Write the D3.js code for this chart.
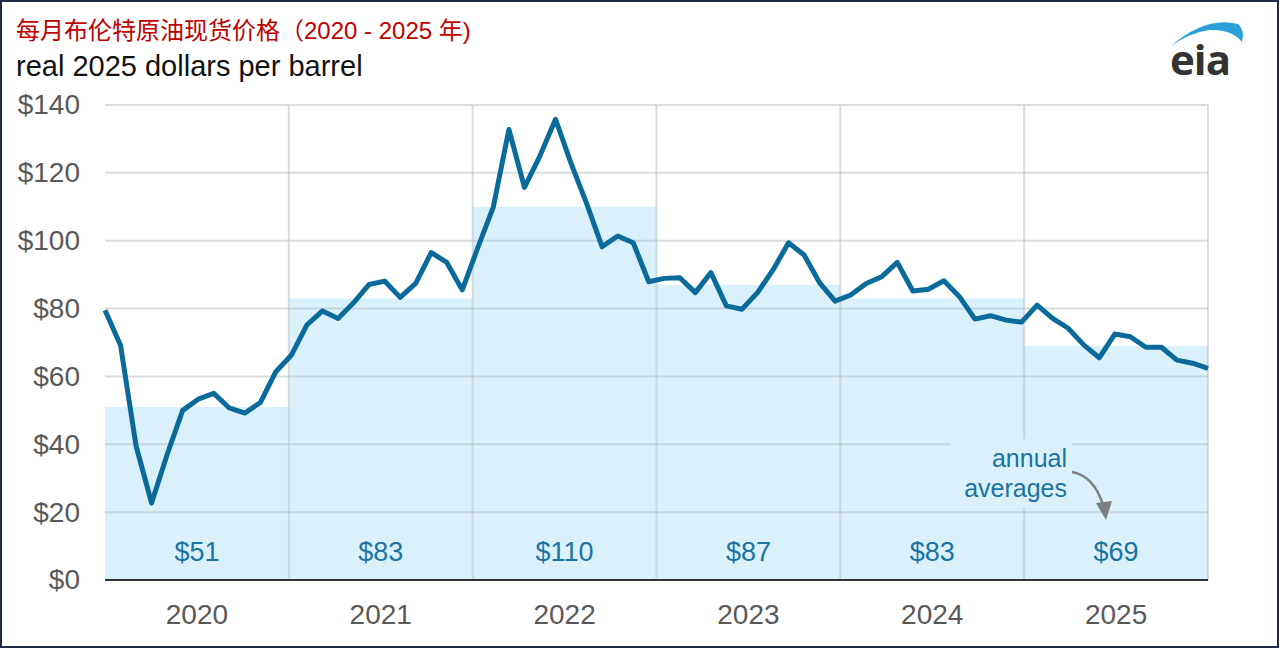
<!DOCTYPE html>
<html><head><meta charset="utf-8">
<script src="https://cdn.jsdelivr.net/npm/d3@7"></script>
<style>
html,body{margin:0;padding:0;background:#fff;}
svg{display:block;font-family:"Liberation Sans",Arial,sans-serif;}
</style></head>
<body><svg id="c" width="1280" height="650"></svg>
<script>
const years = ["2020","2021","2022","2023","2024","2025"];
const annualAvg = [51, 83, 110, 87, 83, 69];
const avgLabels = ["$51","$83","$110","$87","$83","$69"];
const monthly = [
  79.5, 69.2, 39.5, 22.7, 37, 50, 53.3, 55, 50.7, 49.2, 52.3, 61.4,
  66.3, 75.2, 79.3, 77.1, 81.7, 87.1, 88.1, 83.3, 87.4, 96.5, 93.6, 85.5,
  98, 110, 132.8, 115.7, 125, 135.8, 122.8, 111, 98.2, 101.4, 99.4, 87.9,
  88.9, 89.1, 84.7, 90.6, 80.8, 79.8, 84.7, 91.4, 99.4, 95.8, 87.6, 82.2,
  84, 87.4, 89.4, 93.6, 85.2, 85.7, 88.2, 83.5, 76.9, 77.9, 76.6, 76,
  81, 77.1, 74.2, 69.3, 65.5, 72.5, 71.7, 68.6, 68.6, 64.8, 63.9, 62.4
];
const yTicks = [0, 20, 40, 60, 80, 100, 120, 140];
const title = "每月布伦特原油现货价格（2020 - 2025 年)";
const subtitle = "real 2025 dollars per barrel";
const noteLines = ["annual", "averages"];

const svg = d3.select("#c");
const L = 105, R = 1208, T = 105, B = 580;
const barFill = "#daf1fc";

const y = d3.scaleLinear().domain([0, 140]).range([B, T]);
const xb = d3.scaleBand().domain(years).range([L, R]);
const xm = d3.scaleLinear().domain([0, monthly.length - 1]).range([L, R]);

// border
svg.append("rect").attr("x", 1).attr("y", 1).attr("width", 1277).attr("height", 646)
  .attr("fill", "none").attr("stroke", "#1f2b45").attr("stroke-width", 2);

// bars
svg.append("g").selectAll("rect").data(years).join("rect")
  .attr("x", d => xb(d)).attr("width", xb.bandwidth())
  .attr("y", (d, i) => y(annualAvg[i])).attr("height", (d, i) => B - y(annualAvg[i]))
  .attr("fill", barFill);

// gridlines
const grid = svg.append("g").attr("stroke", "#b0bcc2").attr("stroke-opacity", 0.5).attr("stroke-width", 2);
grid.selectAll("line.h").data(yTicks.filter(d => d > 0)).join("line")
  .attr("x1", L).attr("x2", R).attr("y1", d => y(d)).attr("y2", d => y(d));
grid.selectAll("line.v").data(years.slice(1).map(d => xb(d)).concat([R])).join("line")
  .attr("x1", d => d).attr("x2", d => d).attr("y1", T).attr("y2", B);

// annotation background
svg.append("rect").attr("x", 950).attr("y", 439).attr("width", 122).attr("height", 69).attr("fill", barFill);

// bottom axis line
svg.append("line").attr("x1", L).attr("x2", R).attr("y1", B).attr("y2", B)
  .attr("stroke", "#333").attr("stroke-width", 2);

// y labels
const yAxis = d3.axisLeft(y).tickValues(yTicks).tickSize(0).tickPadding(25).tickFormat(d => "$" + d);
const ya = svg.append("g").attr("transform", `translate(${L},0)`).call(yAxis);
ya.select(".domain").remove();
ya.selectAll("text").attr("font-size", 28).attr("fill", "#595959").attr("font-family", "Liberation Sans, Arial, sans-serif");

// x labels
const xAxis = d3.axisBottom(xb).tickSize(0).tickPadding(24);
const xa = svg.append("g").attr("transform", `translate(0,${B})`).call(xAxis);
xa.select(".domain").remove();
xa.selectAll("text").attr("font-size", 28).attr("fill", "#595959").attr("font-family", "Liberation Sans, Arial, sans-serif");

// avg labels
svg.append("g").selectAll("text").data(years).join("text")
  .attr("x", d => xb(d) + xb.bandwidth() / 2).attr("y", 561)
  .attr("text-anchor", "middle").attr("font-size", 27).attr("fill", "#1a73a3")
  .text((d, i) => avgLabels[i]);

// line
svg.append("path").datum(monthly)
  .attr("d", d3.line().x((d, i) => xm(i)).y(d => y(d)))
  .attr("fill", "none").attr("stroke", "#0a6b9a").attr("stroke-width", 5)
  .attr("stroke-linejoin", "round").attr("stroke-linecap", "butt");

// annotation
svg.append("g").selectAll("text").data(noteLines).join("text")
  .attr("x", 1067).attr("y", (d, i) => 467 + i * 30)
  .attr("text-anchor", "end").attr("font-size", 25).attr("fill", "#1a73a3")
  .text(d => d);
svg.append("path").attr("d", "M1072,472 Q1094,476 1103,505")
  .attr("fill", "none").attr("stroke", "#7f7f7f").attr("stroke-width", 2.5);
svg.append("path").attr("d", "M1096,503 L1112,501 L1106,520 Z").attr("fill", "#7f7f7f");

// titles
svg.append("text").attr("x", 16).attr("y", 39).attr("font-size", 24).attr("fill", "#c00000")
  .attr("font-family", "Liberation Sans, 'Noto Sans CJK SC', sans-serif").text(title);
svg.append("text").attr("x", 16).attr("y", 76).attr("font-size", 29).attr("fill", "#111").text(subtitle);

// eia logo
svg.append("path").attr("d", "M1170,47 Q1205,16 1238,24 Q1245,30 1242,42 Q1232,29 1209,30 Q1188,33 1170,47 Z").attr("fill", "#2a9fd8");
svg.append("text").attr("x", 1170).attr("y", 75).attr("font-size", 42).attr("font-weight", "bold")
  .attr("fill", "#333").attr("font-family", "'Open Sans', 'Noto Sans', sans-serif").attr("letter-spacing", -1).text("eia");
</script></body></html>
